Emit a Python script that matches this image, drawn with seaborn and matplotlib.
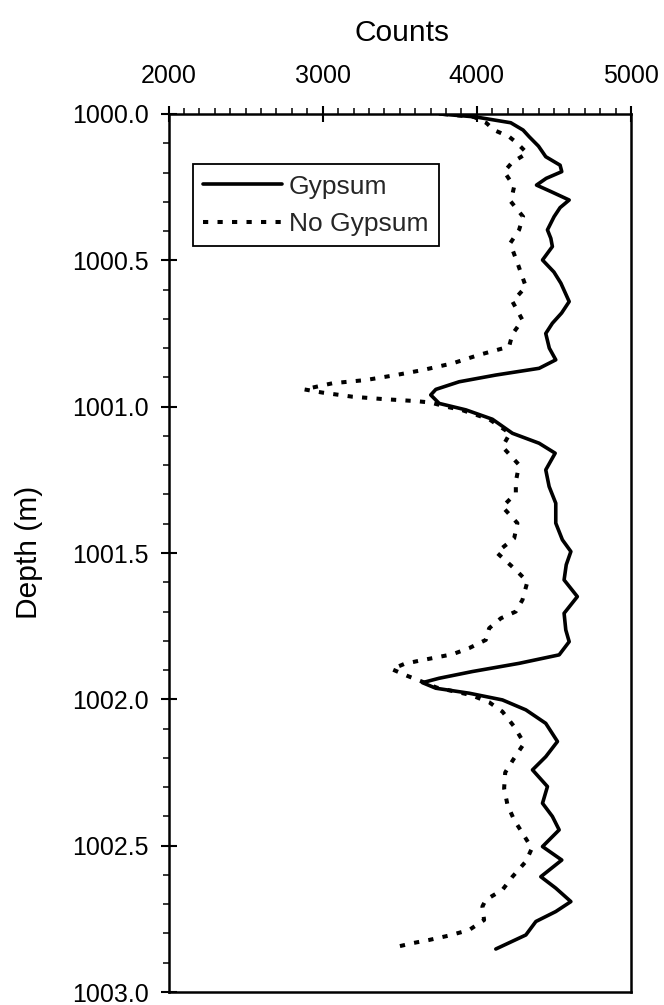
import matplotlib
matplotlib.use("Agg")
import matplotlib.pyplot as plt
import seaborn as sns
import numpy as np
import pandas as pd
from matplotlib.ticker import MultipleLocator, FormatStrFormatter

# ---------------- data ----------------
gyp_depth = [1000.000, 1000.010, 1000.030, 1000.055, 1000.078, 1000.110, 1000.146, 1000.175,
             1000.197, 1000.220, 1000.243, 1000.265, 1000.294, 1000.320, 1000.351, 1000.396,
             1000.425, 1000.453, 1000.499, 1000.540, 1000.578, 1000.641, 1000.680, 1000.715,
             1000.750, 1000.800, 1000.840, 1000.869, 1000.892, 1000.915, 1000.941, 1000.960,
             1000.989, 1001.011, 1001.043, 1001.091, 1001.125, 1001.159, 1001.216, 1001.273,
             1001.330, 1001.398, 1001.455, 1001.495, 1001.540, 1001.592, 1001.649, 1001.706,
             1001.763, 1001.803, 1001.848, 1001.877, 1001.905, 1001.928, 1001.943, 1001.962,
             1001.979, 1002.002, 1002.036, 1002.082, 1002.144, 1002.196, 1002.241, 1002.298,
             1002.355, 1002.400, 1002.446, 1002.503, 1002.549, 1002.606, 1002.645, 1002.691,
             1002.725, 1002.759, 1002.805, 1002.853]
gyp_counts = [3760, 3990, 4220, 4300, 4340, 4400, 4447, 4540,
              4551, 4450, 4387, 4480, 4599, 4540, 4501, 4458,
              4480, 4490, 4426, 4500, 4545, 4599, 4550, 4490,
              4447, 4470, 4512, 4404, 4123, 3885, 3734, 3701,
              3756, 3929, 4101, 4231, 4404, 4508, 4447, 4469,
              4512, 4512, 4555, 4610, 4580, 4566, 4652, 4566,
              4577, 4599, 4534, 4274, 3971, 3755, 3647, 3734,
              3950, 4166, 4318, 4447, 4523, 4447, 4361, 4458,
              4426, 4490, 4534, 4426, 4551, 4415, 4512, 4610,
              4512, 4383, 4318, 4123]

nogyp_depth = [1000.000, 1000.010, 1000.030, 1000.055, 1000.078, 1000.100, 1000.134, 1000.165,
               1000.197, 1000.248, 1000.299, 1000.351, 1000.396, 1000.442, 1000.510, 1000.590,
               1000.641, 1000.704, 1000.752, 1000.795, 1000.823, 1000.852, 1000.875, 1000.892,
               1000.909, 1000.920, 1000.941, 1000.952, 1000.966, 1000.974, 1000.981, 1000.986,
               1001.000, 1001.011, 1001.043, 1001.091, 1001.137, 1001.199, 1001.256, 1001.296,
               1001.342, 1001.398, 1001.450, 1001.498, 1001.558, 1001.598, 1001.660, 1001.700,
               1001.723, 1001.757, 1001.797, 1001.825, 1001.846, 1001.857, 1001.868, 1001.879,
               1001.897, 1001.920, 1001.940, 1001.960, 1001.985, 1002.010, 1002.042, 1002.093,
               1002.150, 1002.201, 1002.250, 1002.304, 1002.361, 1002.412, 1002.457, 1002.509,
               1002.554, 1002.606, 1002.651, 1002.685, 1002.708, 1002.754, 1002.788, 1002.807,
               1002.822, 1002.833, 1002.845]
nogyp_counts = [3780, 3980, 4060, 4112, 4210, 4262, 4326, 4230,
                4177, 4242, 4220, 4300, 4274, 4216, 4264, 4318,
                4231, 4296, 4231, 4209, 4015, 3843, 3648, 3475,
                3280, 3064, 2880, 2999, 3193, 3388, 3604, 3701,
                3800, 3900, 4080, 4215, 4166, 4274, 4253, 4253,
                4166, 4263, 4242, 4128, 4253, 4328, 4296, 4253,
                4156, 4080, 4058, 3950, 3842, 3734, 3626, 3529,
                3449, 3550, 3647, 3740, 3960, 4080, 4166, 4242,
                4307, 4242, 4184, 4177, 4199, 4242, 4296, 4357,
                4318, 4231, 4166, 4058, 4036, 4047, 3950, 3820,
                3691, 3583, 3485]

series_labels = ["Gypsum", "No Gypsum"]
x_label = "Counts"
y_label = "Depth (m)"

# ---------------- style ----------------
sns.set_style("ticks")
plt.rcParams['font.family'] = ['Liberation Sans', 'DejaVu Sans']
plt.rcParams['axes.linewidth'] = 1.8

fig = plt.figure(figsize=(6.64, 10.05), dpi=100)
ax = fig.add_axes([0.2538, 0.0129, 0.6965, 0.8737])

df_g = pd.DataFrame({"Counts": gyp_counts, "Depth": gyp_depth})
df_n = pd.DataFrame({"Counts": nogyp_counts, "Depth": nogyp_depth})

sns.lineplot(data=df_g, x="Counts", y="Depth", sort=False, estimator=None,
             color="black", linewidth=2.6, ax=ax, label=series_labels[0])
sns.lineplot(data=df_n, x="Counts", y="Depth", sort=False, estimator=None,
             color="black", linewidth=2.9, linestyle=(0, (1.3, 2.3)), ax=ax,
             label=series_labels[1])

ax.set_xlim(2000, 5000)
ax.set_ylim(1003.0, 1000.0)

ax.xaxis.tick_top()
ax.xaxis.set_label_position('top')
ax.xaxis.set_major_locator(MultipleLocator(1000))
ax.xaxis.set_minor_locator(MultipleLocator(100))
ax.yaxis.set_major_locator(MultipleLocator(0.5))
ax.yaxis.set_minor_locator(MultipleLocator(0.1))
ax.yaxis.set_major_formatter(FormatStrFormatter('%.1f'))

ax.tick_params(axis='x', which='major', direction='inout', length=12, width=1.5,
               top=True, bottom=False, labeltop=True, labelbottom=False,
               labelsize=18, pad=13, colors='black')
ax.tick_params(axis='x', which='minor', direction='out', length=4.5, width=1.3,
               top=True, bottom=False)
ax.tick_params(axis='y', which='major', direction='inout', length=12, width=1.5,
               left=True, right=False, labelsize=18, pad=8, colors='black')
ax.tick_params(axis='y', which='minor', direction='out', length=4.5, width=1.3,
               left=True, right=False)

ax.set_xlabel(x_label, fontsize=21.5, color='black')
ax.set_ylabel(y_label, fontsize=21.5, color='black')
ax.xaxis.set_label_coords(0.505, 1.083)
ax.yaxis.set_label_coords(-0.272, 0.501)

for s in ax.spines.values():
    s.set_visible(True)
    s.set_color('black')
    s.set_linewidth(1.8)

handles, labels = ax.get_legend_handles_labels()
leg = ax.legend(handles=handles, labels=labels, loc='upper left',
                bbox_to_anchor=(0.052, 0.943), borderaxespad=0,
                fontsize=19, frameon=True, fancybox=False,
                handlelength=3.0, handletextpad=0.25, borderpad=0.4,
                labelspacing=0.5)
leg.get_frame().set_edgecolor('black')
leg.get_frame().set_linewidth(1.3)
leg.get_frame().set_alpha(1)

fig.savefig("out.png", dpi=100)
